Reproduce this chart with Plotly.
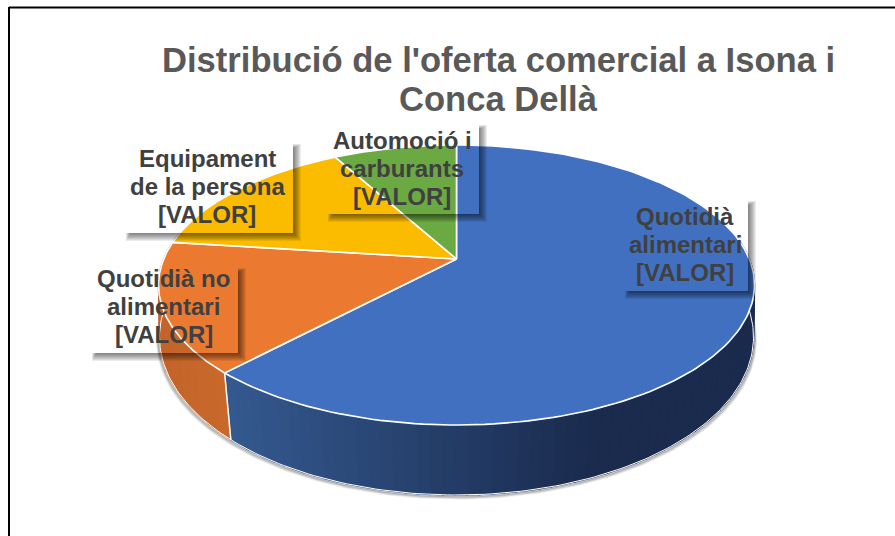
import numpy as np
import plotly.graph_objects as go

categories = ["Quotidià alimentari", "Quotidià no alimentari", "Equipament de la persona", "Automoció i carburants"]
values = [62, 15, 15, 8]
colors = ["#4170C1", "#EB7A30", "#FBBC00", "#6BA942"]
label_lines = [["Quotidià", "alimentari", "[VALOR]"],
               ["Quotidià no", "alimentari", "[VALOR]"],
               ["Equipament", "de la persona", "[VALOR]"],
               ["Automoció i", "carburants", "[VALOR]"]]
title_lines = ["Distribució de l'oferta comercial a Isona i", "Conca Dellà"]

W, H = 895, 536
CX, CY, RX, RY = 456.5, 285, 298, 140
PERSP = 0.186
BCX, BCY, BRX, BRY = 456.5, 337, 297, 158
BPERSP = 0.15


def project(theta, r=1.0, cx=CX, cy=CY, rx=RX, ry=RY, p=PERSP):
    u, v = r * np.sin(theta), r * np.cos(theta)
    d = 1 + p * v
    return cx + rx * u * np.sqrt(1 - p ** 2) / d, cy - ry * (v + p) / d


def bottom(theta, off=0.0):
    return project(theta, cx=BCX, cy=BCY + off, rx=BRX + off * 0.7, ry=BRY, p=BPERSP)


def mix(a, b, t):
    ca = [int(a[i:i + 2], 16) for i in (1, 3, 5)]
    cb = [int(b[i:i + 2], 16) for i in (1, 3, 5)]
    return "rgb(%d,%d,%d)" % tuple(round(x + (y - x) * t) for x, y in zip(ca, cb))


fig = go.Figure()
edges = np.cumsum([0] + values) / sum(values) * 2 * np.pi


def poly(x, y, fill, line=None, width=0):
    fig.add_trace(go.Scatter(x=x, y=y, mode="lines", fill="toself", fillcolor=fill,
                             line=dict(color=line or fill, width=width if line else 1.4),
                             hoverinfo="skip", showlegend=False))


# soft shadow below the body
th = np.linspace(np.radians(78), np.radians(282), 160)
for off, alpha in [(3.5, 0.10), (2.5, 0.18), (1.5, 0.28)]:
    bx, by = bottom(th, off)
    fig.add_trace(go.Scatter(x=bx, y=by, mode="lines", line=dict(color="rgba(60,60,60,%.2f)" % alpha, width=2),
                             hoverinfo="skip", showlegend=False))

# side wall strips
wall = [(0, np.radians(80), edges[1], "#1A2B4E", "#34598F"),
        (1, edges[1], np.radians(282), "#C4642A", "#C8692B")]
for idx, a, b, c_end, c_start in wall:
    n = 70 if idx == 0 else 18
    th = np.linspace(a, b, n + 1)
    for i in range(n):
        t0 = np.linspace(th[i], th[i + 1], 3)
        tx, ty = project(t0)
        qx, qy = bottom(t0)
        xm = float(np.clip((tx.mean() - 225) / (590 - 225), 0, 1))
        col = mix(c_start, c_end, xm) if idx == 0 else mix(c_start, c_end, (225 - tx.mean()) / 65)
        poly(np.r_[tx, qx[::-1], tx[0]], np.r_[ty, qy[::-1], ty[0]], col)

# white rim lines on the wall
th = np.linspace(np.radians(80), np.radians(282), 200)
qx, qy = bottom(th)
fig.add_trace(go.Scatter(x=qx, y=qy, mode="lines", line=dict(color="white", width=1.0),
                         hoverinfo="skip", showlegend=False))
tx, ty = project(np.array([edges[1]]))
qx, qy = bottom(np.array([edges[1]]))
fig.add_trace(go.Scatter(x=[tx[0], qx[0]], y=[ty[0], qy[0]], mode="lines",
                         line=dict(color="white", width=1.5), hoverinfo="skip", showlegend=False))

# top slices
apex_x, apex_y = project(np.array([0.0]), r=0.0)
for i, cat in enumerate(categories):
    th = np.linspace(edges[i], edges[i + 1], 160)
    ex, ey = project(th)
    poly(np.r_[apex_x, ex, apex_x], np.r_[apex_y, ey, apex_y], colors[i], "white", 1.6)

# label boxes: only their soft shadows are visible
boxes = [(622, 198, 748, 291), (89, 265, 238, 353), (123, 141, 293, 233), (325, 122, 479, 214)]
text_centers = [(685, 244.5), (163.5, 306), (207, 186), (402, 168)]
shapes = []
for x0, y0, x1, y1 in boxes:
    for s in range(1, 9):
        alpha = 0.075
        inset = 3 + (8 - s) * 0.6
        shapes.append(dict(type="rect", x0=x0 + inset, x1=x1 + s, y0=y1, y1=y1 + s,
                           fillcolor="rgba(0,0,0,%.3f)" % alpha, line_width=0, layer="above"))
        shapes.append(dict(type="rect", x0=x1, x1=x1 + s, y0=y0 + inset, y1=y1,
                           fillcolor="rgba(0,0,0,%.3f)" % alpha, line_width=0, layer="above"))
# chart frame
shapes.append(dict(type="line", x0=9, x1=W, y0=7.5, y1=7.5, line=dict(color="black", width=2), layer="above"))
shapes.append(dict(type="line", x0=9, x1=9, y0=7, y1=H, line=dict(color="black", width=2), layer="above"))

annotations = []
for lines, (xc, yc) in zip(label_lines, text_centers):
    for k, line in enumerate(lines):
        annotations.append(dict(x=xc, y=yc + (k - 1) * 28, text="<b>%s</b>" % line, showarrow=False, xanchor="center",
                                yanchor="middle", font=dict(family="Liberation Sans", size=24, color="#404040")))
for line, y in zip(title_lines, [60, 99]):
    annotations.append(dict(x=498.5, y=y, text="<b>%s</b>" % line, showarrow=False, xanchor="center", yanchor="middle",
                            font=dict(family="Liberation Sans", size=34.6, color="#595959")))

fig.update_layout(width=W, height=H, margin=dict(l=0, r=0, t=0, b=0), paper_bgcolor="white", plot_bgcolor="white",
                  showlegend=False, shapes=shapes, annotations=annotations,
                  xaxis=dict(range=[0, W], visible=False, fixedrange=True),
                  yaxis=dict(range=[H, 0], visible=False, fixedrange=True))
fig.write_html("out.html", config={"displayModeBar": False},
               post_script="document.body.style.margin='0';document.body.style.overflow='hidden';")
